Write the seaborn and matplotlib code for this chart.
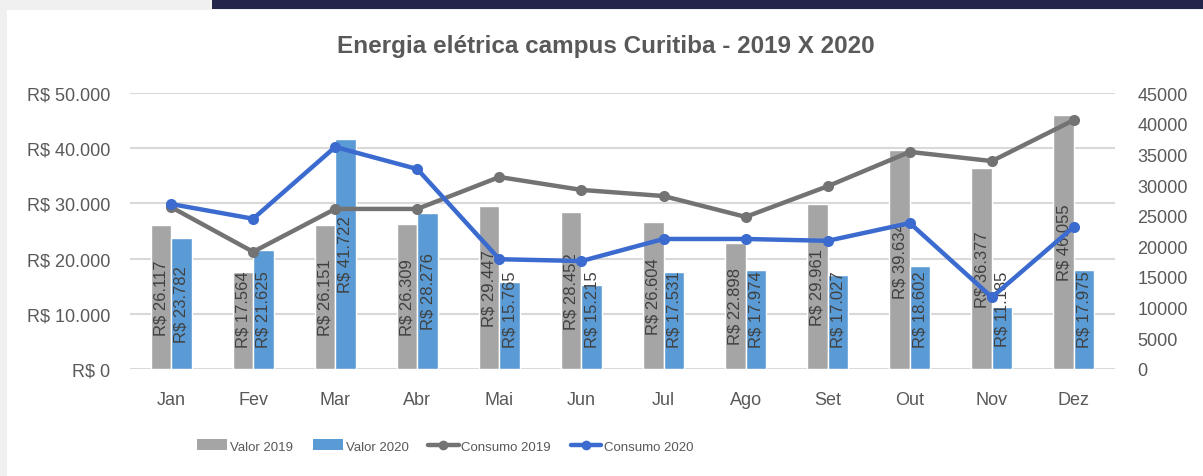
import numpy as np
import pandas as pd
import matplotlib
matplotlib.use("Agg")
import matplotlib.pyplot as plt
import matplotlib.patches as mpatches
from matplotlib.lines import Line2D
from matplotlib.ticker import FuncFormatter, MultipleLocator
import seaborn as sns

meses = ["Jan", "Fev", "Mar", "Abr", "Mai", "Jun", "Jul", "Ago", "Set", "Out", "Nov", "Dez"]
valor_2019 = [26117, 17564, 26151, 26309, 29447, 28452, 26604, 22898, 29961, 39634, 36377, 46055]
valor_2020 = [23782, 21625, 41722, 28276, 15765, 15215, 17531, 17974, 17027, 18602, 11185, 17975]
consumo_2019 = [26400, 19100, 26100, 26100, 31300, 29200, 28200, 24800, 29800, 35400, 33900, 40600]
consumo_2020 = [26900, 24500, 36200, 32600, 17900, 17600, 21200, 21200, 20900, 23800, 11700, 23200]

titulo = "Energia elétrica campus Curitiba - 2019 X 2020"
series_valor = ["Valor 2019", "Valor 2020"]
series_consumo = ["Consumo 2019", "Consumo 2020"]

sns.set_style("white")
plt.rcParams["font.family"] = ["Liberation Sans", "DejaVu Sans"]

C_GRAY = "#A5A5A5"
C_BLUE = "#5B9BD5"
C_LGRAY = "#737373"
C_LBLUE = "#3C6BD0"
TXT = "#595959"

fig = plt.figure(figsize=(12.03, 4.77), dpi=100)
fig.patch.set_facecolor("#F0F0F0")
fig.add_artist(mpatches.Rectangle((7/1203, 0), 1 - 7/1203, 1 - 11/477, transform=fig.transFigure,
                                  facecolor="white", edgecolor="none", zorder=0))
fig.add_artist(mpatches.Rectangle((212/1203, 1 - 10/477), 1 - 212/1203, 10/477, transform=fig.transFigure,
                                  facecolor="#22264A", edgecolor="none", zorder=0))

ax = fig.add_axes([130/1203, 1 - 370/477, (1115 - 130)/1203, (370 - 94)/477])
ax.set_facecolor("none")

df = pd.DataFrame({
    "mes": meses * 2,
    "serie": [series_valor[0]] * 12 + [series_valor[1]] * 12,
    "valor": valor_2019 + valor_2020,
})
sns.barplot(data=df, x="mes", y="valor", hue="serie", palette=[C_GRAY, C_BLUE],
            width=0.5, ax=ax, legend=False, saturation=1, order=meses, hue_order=series_valor)

ax.set_xlim(-0.5, 11.5)
ax.set_ylim(0, 50000)
ax.yaxis.set_major_locator(MultipleLocator(10000))
ax.yaxis.set_major_formatter(FuncFormatter(lambda v, p: "R$ 0" if v == 0 else "R$ " + f"{int(v):,}".replace(",", ".")))
ax.grid(axis="y", color="#D9D9D9", linewidth=1.5)
ax.set_axisbelow(True)
for s in ax.spines.values():
    s.set_visible(False)
ax.set_xlabel("")
ax.set_ylabel("")
ax.tick_params(axis="both", length=0, labelsize=13, colors=TXT)
ax.tick_params(axis="x", pad=16)
ax.tick_params(axis="y", pad=14)

for cont in ax.containers:
    for rect in cont:
        h = rect.get_height()
        xc = rect.get_x() + rect.get_width() / 2
        yc = max(h / 2, 11000)
        ax.text(xc, yc, "R$ " + f"{int(round(h)):,}".replace(",", "."), rotation=90,
                ha="center", va="center", fontsize=12, color="#404040", zorder=3)

ax2 = ax.twinx()
ax2.set_facecolor("none")
pos = np.arange(len(meses))
dl = pd.DataFrame({
    "x": np.concatenate([pos, pos]),
    "consumo": consumo_2019 + consumo_2020,
    "serie": [series_consumo[0]] * 12 + [series_consumo[1]] * 12,
})
sns.lineplot(data=dl, x="x", y="consumo", hue="serie", palette=[C_LGRAY, C_LBLUE],
             hue_order=series_consumo, marker="o", markersize=8, markeredgewidth=0,
             linewidth=3.2, ax=ax2, legend=False, sort=False)
ax2.set_ylim(0, 45000)
ax2.set_xlim(-0.5, 11.5)
ax2.yaxis.set_major_locator(MultipleLocator(5000))
ax2.yaxis.set_major_formatter(FuncFormatter(lambda v, p: f"{int(v)}"))
for s in ax2.spines.values():
    s.set_visible(False)
ax2.set_xlabel("")
ax2.set_ylabel("")
ax2.tick_params(axis="y", length=0, labelsize=13, colors=TXT, pad=16)
ax2.grid(False)

fig.text(606/1203, 1 - 47/477, titulo, ha="center", va="center", fontsize=17.5,
         fontweight="bold", color=TXT)

handles = [
    mpatches.Patch(facecolor=C_GRAY, edgecolor="none"),
    mpatches.Patch(facecolor=C_BLUE, edgecolor="none"),
    Line2D([0], [0], color=C_LGRAY, lw=3.2, marker="o", markersize=7, markeredgewidth=0),
    Line2D([0], [0], color=C_LBLUE, lw=3.2, marker="o", markersize=7, markeredgewidth=0),
]
leg = fig.legend(handles, series_valor + series_consumo, loc="center", ncol=4,
                 bbox_to_anchor=(445/1203, 1 - 447/477), frameon=False, fontsize=9.5,
                 handlelength=2.3, handletextpad=0.2, columnspacing=1.5, handleheight=0.9)
for t in leg.get_texts():
    t.set_color(TXT)

fig.savefig("out.png", dpi=100, facecolor=fig.get_facecolor())
